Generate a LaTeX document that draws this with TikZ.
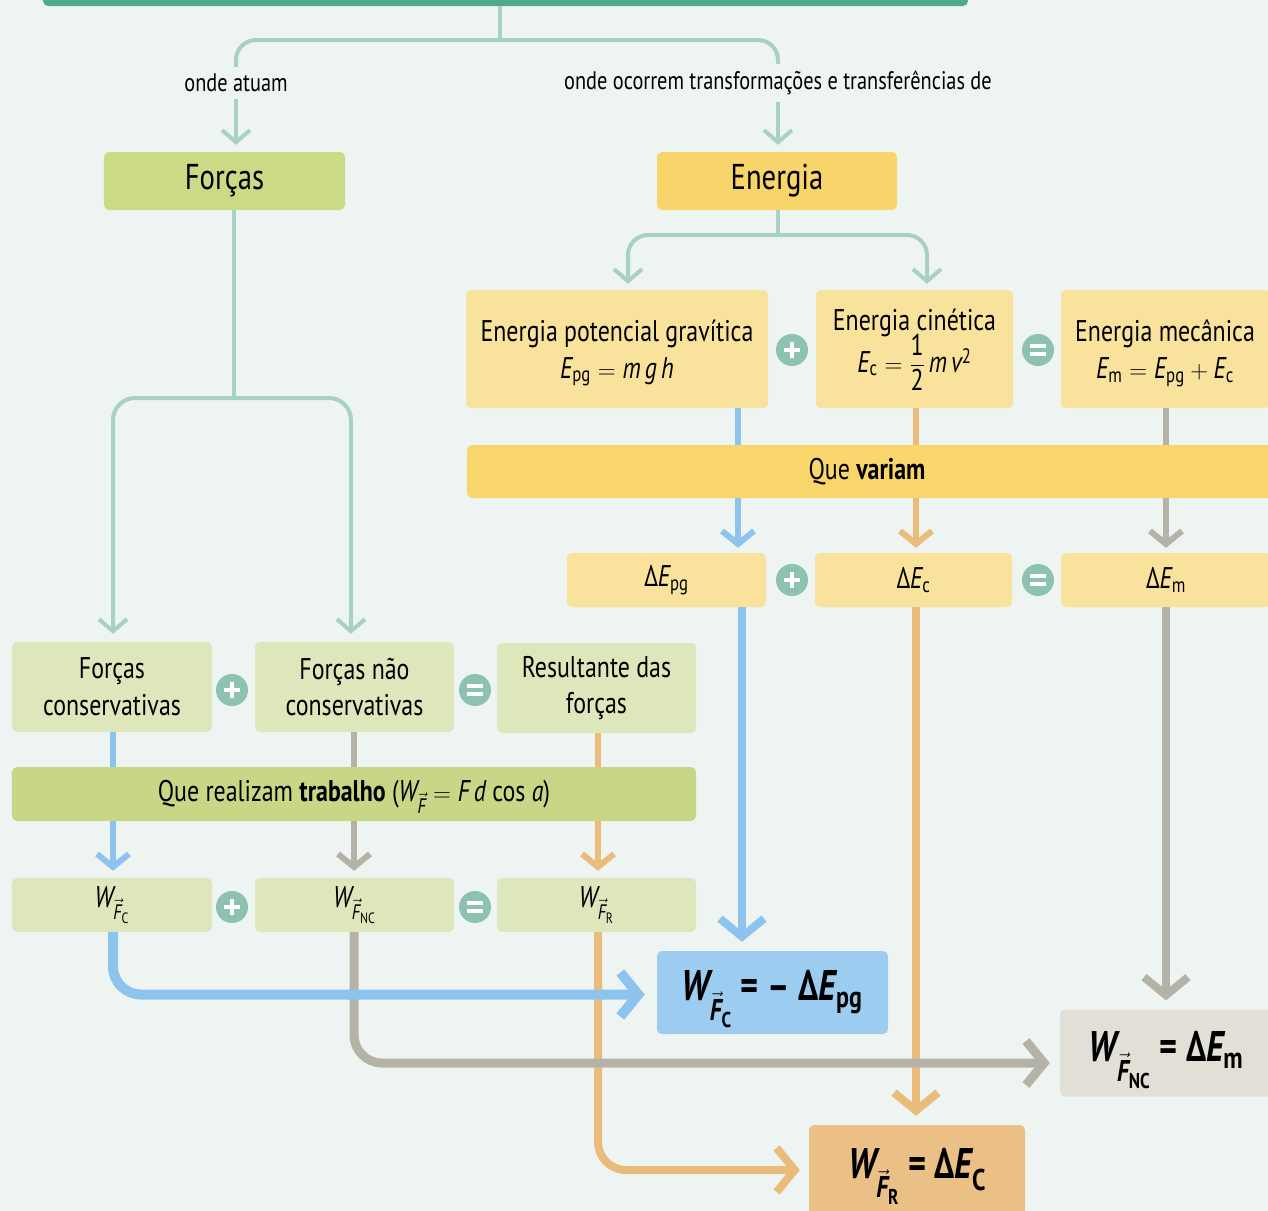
\documentclass[tikz,border=0pt]{standalone}
\usepackage[no-math]{fontspec}
\usepackage{amsmath}
\setmainfont[FakeStretch=0.8]{PT Sans}
\usetikzlibrary{arrows.meta}
\definecolor{bgc}{HTML}{EEF4F2}
\definecolor{topgreen}{HTML}{4FA98A}
\definecolor{tealline}{HTML}{A7D1C2}
\definecolor{opfill}{HTML}{8DC2B0}
\definecolor{gTitle}{HTML}{CBDA85}
\definecolor{gLight}{HTML}{DDE7BB}
\definecolor{gBar}{HTML}{C7D785}
\definecolor{yTitle}{HTML}{F8D56A}
\definecolor{yLight}{HTML}{F9E39C}
\definecolor{yBar}{HTML}{F8D66B}
\definecolor{lineblue}{HTML}{8DC4EE}
\definecolor{boxblue}{HTML}{9CCDF1}
\definecolor{linegray}{HTML}{B5B3A8}
\definecolor{boxgray}{HTML}{E1DFD6}
\definecolor{lineorange}{HTML}{E9BC7C}
\definecolor{boxorange}{HTML}{EBC087}
\newcommand\ti[1]{\text{\itshape #1}}
\newcommand\fsT{\fontsize{36}{40}\selectfont}
\newcommand\fsB{\fontsize{30}{37}\selectfont}
\newcommand\fsL{\fontsize{25.5}{28}\selectfont}
\newcommand\fsBig{\fontsize{43}{48}\selectfont\bfseries}
\tikzset{
  wh/.style 2 args={minimum width=#1bp, minimum height=#2bp},
  box/.style={rounded corners=5bp, inner sep=0bp, align=center, text=black},
  txt/.style={inner sep=0bp, align=center, text=black},
  lbl/.style={inner sep=7bp, font=\fsL, text=black},
  conn/.style={draw=tealline, line width=4bp},
  tipS/.style={-{Straight Barb[length=12bp,width=28bp]}},
  tipM/.style={-{Straight Barb[length=13bp,width=32bp]}},
  tipL/.style={-{Straight Barb[length=18bp,width=44bp]}},
  cb/.style={draw=lineblue},
  cg/.style={draw=linegray},
  co/.style={draw=lineorange},
  opc/.style={circle, fill=opfill, minimum size=32bp, inner sep=0bp},
  opplus/.style={opc, path picture={\draw[white,line width=3.5bp]
      ([xshift=-8bp]path picture bounding box.center) -- ([xshift=8bp]path picture bounding box.center)
      ([yshift=-8bp]path picture bounding box.center) -- ([yshift=8bp]path picture bounding box.center);}},
  opeq/.style={opc, path picture={\draw[white,line width=3.5bp]
      ([xshift=-8bp,yshift=4bp]path picture bounding box.center) -- ([xshift=8bp,yshift=4bp]path picture bounding box.center)
      ([xshift=-8bp,yshift=-4bp]path picture bounding box.center) -- ([xshift=8bp,yshift=-4bp]path picture bounding box.center);}},
}
\begin{document}
\begin{tikzpicture}[x=1bp,y=-1bp]
\fill[bgc] (0,0) rectangle (1268,1211);
\useasboundingbox (0,0) rectangle (1268,1211);

% top
\node[box, fill=topgreen, wh={925}{40}] (top) at (505.5,-14) {};
\node[lbl] (la) at (236,83) {onde atuam};
\node[lbl] (lb) at (778,83) {onde ocorrem transformações e transferências de};
\node[box, fill=gTitle, wh={241}{58}, font=\fsT] (forcas) at (224.5,181) {Forças};
\node[box, fill=yTitle, wh={240}{58}, font=\fsT] (energia) at (777,181) {Energia};

\coordinate (j1) at (500,40);
\draw[conn] (top.south -| j1) -- (j1);
\draw[conn, rounded corners=20bp] (la.north) |- (j1) -| (lb.north);
\draw[conn, tipS, shorten >=7bp] (la.south) -- (forcas.north -| la);
\draw[conn, tipS, shorten >=7bp] (lb.south) -- (energia.north -| lb);

% energy boxes
\node[box, fill=yLight, wh={302}{118}] (epg) at (617,349) {};
\node[box, fill=yLight, wh={197}{118}] (ec) at (914.5,349) {};
\node[box, fill=yLight, wh={210}{118}] (em) at (1166,349) {};
\node[txt, font=\fsB] (epgT) at (617,353)
  {Energia potencial gravítica\\ $\ti{E}_{\text{pg}} = \ti{m}\,\ti{g}\,\ti{h}$};
\node[txt, font=\fsB] (ecT) at (914.5,350)
  {Energia cinética\\[-4bp] $\ti{E}_{\text{c}} = \dfrac{\text{1}}{\text{2}}\,\ti{m}\,\ti{v}^{\text{2}}$};
\node[txt, font=\fsB] (emT) at (1165,353)
  {Energia mecânica\\ $\ti{E}_{\text{m}} = \ti{E}_{\text{pg}} + \ti{E}_{\text{c}}$};
\node[opplus] (op1) at (792,350) {};
\node[opeq] (op2) at (1038,350) {};

\coordinate (j3) at (778,235);
\coordinate (xA) at (628,0);
\coordinate (xB) at (927,0);
\draw[conn] (energia.south -| j3) -- (j3);
\draw[conn, tipS, rounded corners=20bp, shorten >=6bp] (j3) -| (epg.north -| xA);
\draw[conn, tipS, rounded corners=20bp, shorten >=6bp] (j3) -| (ec.north -| xB);

\node[box, fill=yBar, wh={811}{53}] (qv) at (872.5,471.5) {};
\node[txt, font=\fsB] (qvt) at (867,472) {Que \textbf{variam}};

\node[box, fill=yLight, wh={199}{54}, font=\fsB] (dpg) at (666.5,580) {$\text{Δ}\ti{E}_{\text{pg}}$};
\node[box, fill=yLight, wh={197}{54}, font=\fsB] (dec) at (913.5,580) {$\text{Δ}\ti{E}_{\text{c}}$};
\node[box, fill=yLight, wh={210}{54}, font=\fsB] (dem) at (1166,580) {$\text{Δ}\ti{E}_{\text{m}}$};
\node[opplus] (op3) at (792,580) {};
\node[opeq] (op4) at (1038,580) {};

\coordinate (xb1) at (738,0);
\coordinate (xo1) at (916,0);
\coordinate (xg1) at (1166,0);
\draw[cb, line width=6bp] (epg.south -| xb1) -- (qv.north -| xb1);
\draw[co, line width=6bp] (ec.south -| xo1) -- (qv.north -| xo1);
\draw[cg, line width=6bp] (em.south -| xg1) -- (qv.north -| xg1);
\draw[cb, line width=6bp, tipM, shorten >=5bp] (qv.south -| xb1) -- (dpg.north -| xb1);
\draw[co, line width=6bp, tipM, shorten >=5bp] (qv.south -| xo1) -- (dec.north -| xo1);
\draw[cg, line width=6bp, tipM, shorten >=5bp] (qv.south -| xg1) -- (dem.north -| xg1);

% forces
\coordinate (xF) at (234,0);
\coordinate (j2) at (234,398);
\node[box, fill=gLight, wh={200}{90}, font=\fsB] (fc) at (112,687) {Forças\\conservativas};
\node[box, fill=gLight, wh={199}{90}, font=\fsB] (fnc) at (354.5,687) {Forças não\\conservativas};
\node[box, fill=gLight, wh={199}{90}, font=\fsB] (fr) at (596.5,688) {Resultante das\\forças};
\node[opplus] (op5) at (232,690) {};
\node[opeq] (op6) at (475,690) {};
\draw[conn] (forcas.south -| xF) -- (j2);
\coordinate (xL) at (113,0);
\coordinate (xR) at (351,0);
\draw[conn, tipS, rounded corners=22bp, shorten >=8bp] (j2) -| (fc.north -| xL);
\draw[conn, tipS, rounded corners=22bp, shorten >=8bp] (j2) -| (fnc.north -| xR);

\node[box, fill=gBar, wh={684}{54}] (trab) at (354,794) {};
\node[txt, font=\fsB] (trabT) at (354,797)
  {Que realizam \textbf{trabalho} ($\ti{W}_{\vec{\ti{F}}} = \ti{F}\,\ti{d}\text{ cos }\ti{a}$)};

\node[box, fill=gLight, wh={200}{54}, font=\fsB] (wfc) at (112,905) {$\ti{W}_{\vec{\ti{F}}_{\text{C}}}$};
\node[box, fill=gLight, wh={199}{54}, font=\fsB] (wfnc) at (354.5,905) {$\ti{W}_{\vec{\ti{F}}_{\text{NC}}}$};
\node[box, fill=gLight, wh={199}{54}, font=\fsB] (wfr) at (596.5,905) {$\ti{W}_{\vec{\ti{F}}_{\text{R}}}$};
\node[opplus] (op7) at (232,907) {};
\node[opeq] (op8) at (475,907) {};

\coordinate (xb2) at (113,0);
\coordinate (xg2) at (354,0);
\coordinate (xo2) at (598,0);
\draw[cb, line width=6bp] (fc.south -| xb2) -- (trab.north -| xb2);
\draw[cg, line width=6bp] (fnc.south -| xg2) -- (trab.north -| xg2);
\draw[co, line width=6bp] (fr.south -| xo2) -- (trab.north -| xo2);
\draw[cb, line width=6bp, tipM, shorten >=7bp] (trab.south -| xb2) -- (wfc.north -| xb2);
\draw[cg, line width=6bp, tipM, shorten >=7bp] (trab.south -| xg2) -- (wfnc.north -| xg2);
\draw[co, line width=6bp, tipM, shorten >=7bp] (trab.south -| xo2) -- (wfr.north -| xo2);

% result boxes
\node[box, fill=boxblue, wh={231}{83}] (bigC) at (772.5,992.5) {};
\node[box, fill=boxgray, wh={230}{87}] (bigNC) at (1175,1053) {};
\node[box, fill=boxorange, wh={216}{90}] (bigR) at (917,1170) {};
\node[txt, font=\fsBig] (bigCT) at (772,999)
  {$\ti{W}_{\vec{\ti{F}}_{\text{C}}}\text{ = – Δ}\ti{E}_{\text{pg}}$};
\node[txt, font=\fsBig] (bigNCT) at (1166,1060)
  {$\ti{W}_{\vec{\ti{F}}_{\text{NC}}}\text{ = Δ}\ti{E}_{\text{m}}$};
\node[txt, font=\fsBig] (bigRT) at (917,1176)
  {$\ti{W}_{\vec{\ti{F}}_{\text{R}}}\text{ = Δ}\ti{E}_{\text{C}}$};

\coordinate (xb3) at (742,0);
\draw[cb, line width=8bp, tipL, shorten >=9bp] (dpg.south -| xb3) -- (bigC.north -| xb3);
\draw[co, line width=8bp, tipL, shorten >=9bp] (dec.south -| xo1) -- (bigR.north -| xo1);
\draw[cg, line width=8bp, tipL, shorten >=9bp] (dem.south -| xg1) -- (bigNC.north -| xg1);

\draw[co, line width=8bp, tipL, rounded corners=28bp, shorten >=9bp] (wfr.south -| xo2) |- (bigR.west);
\draw[cg, line width=9bp, tipL, rounded corners=28bp, shorten >=10bp] (wfnc.south -| xg2) |- ([yshift=-10bp]bigNC.west);
\draw[cb, line width=10bp, tipL, rounded corners=28bp, shorten >=12bp] (wfc.south -| xb2) |- ([yshift=-2bp]bigC.west);
\end{tikzpicture}
\end{document}
